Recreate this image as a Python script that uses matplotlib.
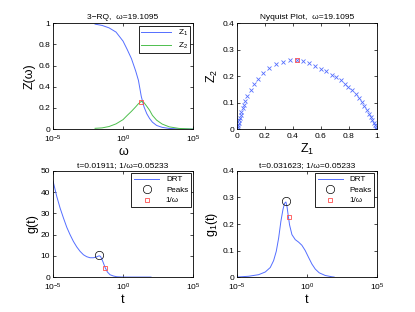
import matplotlib
matplotlib.use("Agg")
import matplotlib.pyplot as plt
from matplotlib.ticker import NullLocator, FixedLocator

plt.rcParams['font.family'] = ['Liberation Sans', 'DejaVu Sans']
plt.rcParams['mathtext.fontset'] = 'custom'
plt.rcParams['mathtext.rm'] = 'Liberation Sans'
plt.rcParams['mathtext.it'] = 'Liberation Sans'

# frequency response (top left)
omega = [1e-2, 3.16e-2, 1e-1, 3.16e-1, 1.0, 2.0, 3.98, 7.94, 12.6, 20.0,
         31.6, 50.1, 79.4, 126, 251, 631, 2000, 1e4, 1e5]
z1 = [0.99, 0.978, 0.955, 0.915, 0.83, 0.75, 0.665, 0.55, 0.46, 0.31,
      0.21, 0.145, 0.10, 0.066, 0.035, 0.017, 0.007, 0.002, 0.0]
z2 = [0.008, 0.012, 0.025, 0.05, 0.09, 0.13, 0.168, 0.21, 0.24, 0.262,
      0.25, 0.215, 0.178, 0.13, 0.085, 0.048, 0.022, 0.007, 0.001]
w_mark = 19.1095
z2_mark = 0.26

# nyquist points (top right)
nyq_z1 = [0.002, 0.005, 0.008, 0.012, 0.016, 0.021, 0.026, 0.032, 0.040, 0.049,
          0.060, 0.074, 0.098, 0.122, 0.153, 0.189, 0.230, 0.278, 0.326, 0.376,
          0.427, 0.475, 0.518, 0.561, 0.602, 0.640, 0.676, 0.710, 0.741, 0.770,
          0.796, 0.825, 0.849, 0.873, 0.892, 0.911, 0.928, 0.945, 0.957, 0.969,
          0.978, 0.986, 0.993, 0.997]
nyq_z2 = [0.003, 0.008, 0.015, 0.024, 0.033, 0.043, 0.053, 0.065, 0.078, 0.092,
          0.107, 0.125, 0.147, 0.169, 0.189, 0.210, 0.229, 0.244, 0.255, 0.260,
          0.260, 0.257, 0.248, 0.238, 0.228, 0.218, 0.206, 0.195, 0.185, 0.172,
          0.160, 0.147, 0.132, 0.118, 0.103, 0.088, 0.074, 0.059, 0.047, 0.034,
          0.024, 0.015, 0.006, 0.002]
nyq_mark = (0.427, 0.261)

# DRT (bottom left)
t_g = [1e-5, 1.82e-5, 3.16e-5, 5.5e-5, 9.55e-5, 1.62e-4, 2.82e-4, 4.9e-4,
       8.51e-4, 1.48e-3, 2.51e-3, 4.37e-3, 7.59e-3, 1.17e-2, 1.74e-2, 2.09e-2,
       2.51e-2, 3.55e-2, 5.13e-2, 7.59e-2, 0.117, 0.204, 0.355, 0.794, 3.16, 100]
g = [45.1, 38.0, 32.5, 27.8, 23.4, 20.0, 16.8, 14.2, 12.1, 10.5, 9.6, 9.1,
     9.1, 9.4, 9.9, 10.0, 9.6, 7.4, 4.6, 2.4, 1.1, 0.5, 0.15, 0.02, 0.0, 0.0]
g_peak = (0.01911, 10.2)
g_inv = (0.05233, 4.3)

# DRT (bottom right)
t_g1 = [1e-5, 6.76e-5, 3.55e-4, 1.05e-3, 2.4e-3, 4.17e-3, 6.46e-3, 9.55e-3,
        1.38e-2, 1.95e-2, 2.51e-2, 3.16e-2, 3.8e-2, 4.68e-2, 5.75e-2, 8.51e-2,
        0.148, 0.251, 0.437, 0.759, 1.32, 2.29, 3.98, 7.59, 20.4, 61.7, 89.1]
g1 = [0.0, 0.003, 0.009, 0.019, 0.036, 0.062, 0.097, 0.147, 0.21, 0.255,
      0.278, 0.283, 0.265, 0.23, 0.197, 0.16, 0.141, 0.132, 0.12, 0.10,
      0.074, 0.049, 0.03, 0.016, 0.006, 0.001, 0.0]
g1_peak = (0.031623, 0.286)
g1_inv = (0.05233, 0.228)

blue = (0.33, 0.43, 1.0)
green = (0.3, 0.75, 0.3)
red = (1.0, 0.3, 0.3)
fs_tick = 6
fs_lab = 9
fs_title = 6


def style(ax):
    ax.tick_params(direction='in', top=True, right=True, length=2.5, width=0.5,
                   labelsize=fs_tick, pad=2)
    ax.tick_params(axis='x', pad=3)
    ax.tick_params(which='minor', length=0)
    for s in ax.spines.values():
        s.set_linewidth(0.6)


def logx(ax):
    ax.set_xscale('log')
    ax.set_xlim(1e-5, 1e5)
    ax.xaxis.set_major_locator(FixedLocator([1e-5, 1, 1e5]))
    ax.xaxis.set_minor_locator(NullLocator())
    ax.set_xticklabels(['10$^{-5}$', '10$^{0}$', '10$^{5}$'])


fig = plt.figure(figsize=(4.15, 3.12), dpi=100)
w, h = 0.337, 0.34
ax1 = fig.add_axes([0.128, 0.586, w, h])
ax2 = fig.add_axes([0.571, 0.586, w, h])
ax3 = fig.add_axes([0.128, 0.112, w, h])
ax4 = fig.add_axes([0.571, 0.112, w, h])

# top left
ax1.plot(omega, z1, color=blue, lw=0.7, label='Z$_1$')
ax1.plot(omega, z2, color=green, lw=0.7, label='Z$_2$')
ax1.plot(w_mark, z2_mark, 's', mfc='none', mec=red, ms=3.5, mew=0.6)
logx(ax1)
ax1.set_ylim(0, 1)
ax1.set_yticks([0, 0.2, 0.4, 0.6, 0.8, 1])
ax1.set_yticklabels(['0', '0.2', '0.4', '0.6', '0.8', '1'])
ax1.set_xlabel('ω', fontsize=fs_lab, labelpad=1)
ax1.set_ylabel('Z(ω)', fontsize=fs_lab, labelpad=2)
ax1.set_title('3−RQ,  ω=19.1095', fontsize=fs_title, pad=3)
leg = ax1.legend(loc='upper right', fontsize=6, handlelength=3.6, fancybox=False,
                 edgecolor='black', framealpha=1, borderaxespad=0.3,
                 labelspacing=0.3, borderpad=0.3, markerfirst=True)
leg.get_frame().set_linewidth(0.6)
style(ax1)

# top right
ax2.plot(nyq_z1, nyq_z2, 'x', color=blue, ms=2.8, mew=0.6)
ax2.plot(*nyq_mark, 's', mfc='none', mec=red, ms=3.5, mew=0.6)
ax2.set_xlim(0, 1)
ax2.set_ylim(0, 0.4)
ax2.set_xticks([0, 0.2, 0.4, 0.6, 0.8, 1])
ax2.set_xticklabels(['0', '0.2', '0.4', '0.6', '0.8', '1'])
ax2.set_yticks([0, 0.1, 0.2, 0.3, 0.4])
ax2.set_yticklabels(['0', '0.1', '0.2', '0.3', '0.4'])
ax2.set_xlabel('Z$_1$', fontsize=fs_lab, labelpad=1)
ax2.set_ylabel('Z$_2$', fontsize=fs_lab, labelpad=2)
ax2.set_title('Nyquist Plot,  ω=19.1095', fontsize=fs_title, pad=3)
style(ax2)


def drt_axes(ax, t, y, peak, inv):
    ax.plot(t, y, color=blue, lw=0.7, label='DRT')
    ax.plot(*peak, 'o', mfc='none', mec='black', ms=6, mew=0.5, label='Peaks')
    ax.plot(*inv, 's', mfc='none', mec=red, ms=3.5, mew=0.6, label='1/ω')
    logx(ax)
    lg = ax.legend(loc='upper right', fontsize=5.8, handlelength=3.2, fancybox=False,
                   edgecolor='black', framealpha=1, borderaxespad=0.3,
                   labelspacing=0.35, borderpad=0.3)
    lg.get_frame().set_linewidth(0.6)
    ax.set_xlabel('t', fontsize=fs_lab, labelpad=1)
    style(ax)


# bottom left
drt_axes(ax3, t_g, g, g_peak, g_inv)
ax3.set_ylim(0, 50)
ax3.set_yticks([0, 10, 20, 30, 40, 50])
ax3.set_ylabel('g(t)', fontsize=fs_lab, labelpad=2)
ax3.set_title('t=0.01911; 1/ω=0.05233', fontsize=fs_title, pad=3)

# bottom right
drt_axes(ax4, t_g1, g1, g1_peak, g1_inv)
ax4.set_ylim(0, 0.4)
ax4.set_yticks([0, 0.1, 0.2, 0.3, 0.4])
ax4.set_yticklabels(['0', '0.1', '0.2', '0.3', '0.4'])
ax4.set_ylabel('g$_1$(t)', fontsize=fs_lab, labelpad=2)
ax4.set_title('t=0.031623; 1/ω=0.05233', fontsize=fs_title, pad=3)

fig.savefig('out.png', dpi=100)
